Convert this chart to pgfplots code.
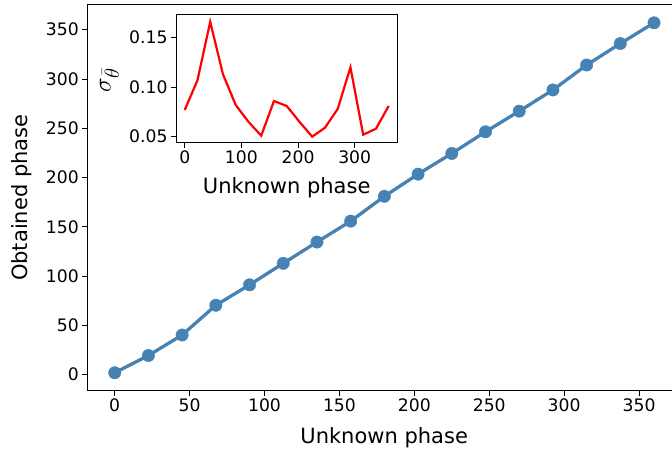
\documentclass[border=0pt]{standalone}
\usepackage{fontspec}
\setmainfont{DejaVu Sans}
\usepackage{pgfplots}
\pgfplotsset{compat=1.18}
\definecolor{steel}{HTML}{4682B4}
\begin{document}
\begin{tikzpicture}
\useasboundingbox (0bp,0bp) rectangle (672bp,454bp);
\clip (0bp,0bp) rectangle (672bp,454bp);
\begin{axis}[
  at={(87.3bp,63.3bp)}, anchor=south west,
  scale only axis, width=593.7bp, height=386bp,
  xmin=-18.3, xmax=378, ymin=-16.2, ymax=375.4,
  axis line style={line width=1bp},
  xtick={0,50,...,350}, ytick={0,50,...,350},
  tick align=outside, tick pos=left,
  major tick length=5bp,
  every tick/.style={black, line width=1bp},
  ticklabel style={font=\fontsize{17.2bp}{20bp}\selectfont},
  /pgf/number format/assume math mode=true,
  label style={font=\fontsize{21bp}{25bp}\selectfont},
  xlabel={Unknown phase}, ylabel={Obtained phase},
  xlabel style={at={(axis description cs:0.5,-0.122)}, anchor=center},
  ylabel style={at={(axis description cs:-0.110,0.5)}, anchor=center, rotate=0},
]
\addplot[steel, line width=3.3bp, mark=*, mark size=6.2bp, mark options={solid, fill=steel, draw=steel, line width=0.4bp}] coordinates {
(0,2.0) (22.5,19.5) (45,40.3) (67.5,70.5) (90,91.2) (112.5,113.0) (135,134.6) (157.5,155.8) (180,181.0) (202.5,203.5) (225,224.5) (247.5,246.5) (270,267.4) (292.5,288.9) (315,314.2) (337.5,336.0) (360,357.0)
};
\end{axis}
\begin{axis}[
  at={(176bp,311.3bp)}, anchor=south west,
  scale only axis, width=221.3bp, height=128bp,
  xmin=-15.4, xmax=375.2, ymin=0.0439, ymax=0.1732,
  axis background/.style={fill=white},
  axis line style={line width=1bp},
  xtick={0,100,200,300}, ytick={0.05,0.10,0.15},
  yticklabel style={/pgf/number format/.cd, fixed, fixed zerofill, precision=2},
  scaled y ticks=false,
  tick align=outside, tick pos=left,
  major tick length=5bp,
  every tick/.style={black, line width=1bp},
  ticklabel style={font=\fontsize{17.2bp}{20bp}\selectfont},
  /pgf/number format/assume math mode=true,
  label style={font=\fontsize{21bp}{25bp}\selectfont},
  xlabel={Unknown phase}, ylabel={$\sigma_{\bar{\theta}}$},
  xlabel style={at={(axis description cs:0.5,-0.354)}, anchor=center},
  ylabel style={at={(axis description cs:-0.300,0.49)}, anchor=center, font=\fontsize{31bp}{34bp}\selectfont},
]
\addplot[red, line width=2.2bp, no markers] coordinates {
(0,0.077) (22.5,0.107) (45,0.166) (67.5,0.113) (90,0.082) (112.5,0.065) (135,0.051) (157.5,0.086) (180,0.081) (202.5,0.065) (225,0.050) (247.5,0.059) (270,0.078) (292.5,0.120) (315,0.052) (337.5,0.058) (360,0.081)
};
\end{axis}
\end{tikzpicture}
\end{document}
